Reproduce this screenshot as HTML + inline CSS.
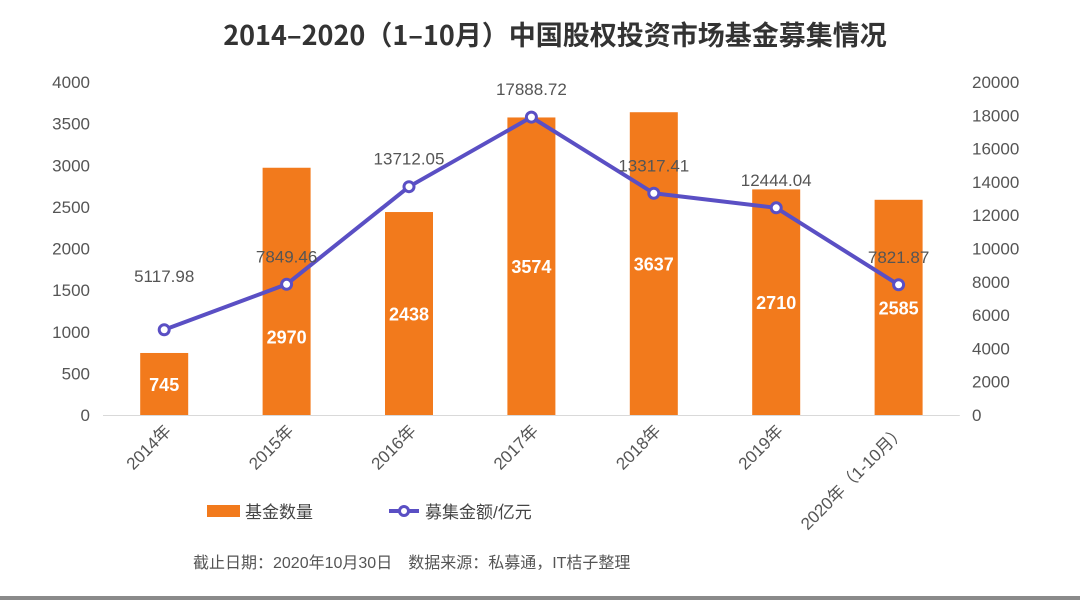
<!DOCTYPE html>
<html><head><meta charset="utf-8"><style>
body{margin:0;background:#fff;}
svg{display:block;font-family:"Liberation Sans","Noto Sans CJK SC",sans-serif;}
</style></head><body>
<svg id="c" width="1080" height="600" viewBox="0 0 1080 600">
<rect x="0" y="0" width="1080" height="600" fill="#fff"/>
<rect x="0" y="596" width="1080" height="4" fill="#8a8a8a"/>
<text x="555" y="45" text-anchor="middle" font-size="27" font-weight="bold" fill="#333" font-family="'Noto Sans CJK SC',sans-serif">2014–2020（1–10月）中国股权投资市场基金募集情况</text>
<g id="g"></g>
<g>
<rect x="207" y="505" width="33" height="12" fill="#F27A1C"/>
<text x="245" y="518" font-size="17" fill="#444">基金数量</text>
<line x1="389" y1="511" x2="419" y2="511" stroke="#5a4fc4" stroke-width="4"/>
<circle cx="404" cy="511" r="4.5" fill="#fff" stroke="#5a4fc4" stroke-width="3"/>
<text x="425" y="518" font-size="17" fill="#444">募集金额/亿元</text>
</g>
<text x="193" y="568" font-size="16" fill="#555">截止日期：2020年10月30日　数据来源：私募通，IT桔子整理</text>
</svg>
<script>
const categories=["2014年","2015年","2016年","2017年","2018年","2019年","2020年（1-10月）"];
const fundCounts=[745,2970,2438,3574,3637,2710,2585];
const amounts=[5117.98,7849.46,13712.05,17888.72,13317.41,12444.04,7821.87];
const amountLabels=["5117.98","7849.46","13712.05","17888.72","13317.41","12444.04","7821.87"];
const leftTicks=[0,500,1000,1500,2000,2500,3000,3500,4000];
const rightTicks=[0,2000,4000,6000,8000,10000,12000,14000,16000,18000,20000];
const NS="http://www.w3.org/2000/svg";
const g=document.getElementById('g');
const y0=415,y1=82,xL=103,step=122.4;
const yL=v=>y0-(v/4000)*(y0-y1);
const yR=v=>y0-(v/20000)*(y0-y1);
const xC=i=>xL+step*(i+0.5);
function mk(t,a,txt){const e=document.createElementNS(NS,t);for(const k in a)e.setAttribute(k,a[k]);if(txt!==undefined)e.textContent=txt;g.appendChild(e);return e;}
leftTicks.forEach(v=>{const e=mk('text',{x:90,y:yL(v)+6,'text-anchor':'end','font-size':17,fill:'#555'},v);

});
rightTicks.forEach(v=>{const e=mk('text',{x:972,y:yR(v)+6,'font-size':17,fill:'#555'},v);

});
const ax=mk('line',{x1:xL,y1:y0+0.5,x2:xL+step*7,y2:y0+0.5,stroke:'#d9d9d9','stroke-width':1});


fundCounts.forEach((v,i)=>{const b=mk('rect',{x:xC(i)-24,y:yL(v),width:48,height:y0-yL(v),fill:'#F27A1C'});


let ly=(yL(v)+y0)/2+7;
if(i===1)ly+=45;
const t=mk('text',{x:xC(i),y:ly,'text-anchor':'middle','font-size':18,'font-weight':'bold',fill:'#fff'},v);

});
const pts=amounts.map((v,i)=>xC(i)+','+yR(v)).join(' ');
const pl=mk('polyline',{points:pts,fill:'none',stroke:'#5a4fc4','stroke-width':4,'stroke-linejoin':'round'});


amounts.forEach((v,i)=>{const c=mk('circle',{cx:xC(i),cy:yR(v),r:5,fill:'#fff',stroke:'#5a4fc4','stroke-width':3});


const off=i===0?-48:-22;
const t=mk('text',{x:xC(i),y:yR(v)+off,'text-anchor':'middle','font-size':17,fill:'#555'},amountLabels[i]);

});
categories.forEach((c,i)=>{const x=xC(i)+8,y=432;const t=mk('text',{x:x,y:y,'text-anchor':'end','font-size':17,fill:'#555',transform:'rotate(-45 '+x+' '+y+')'},c);

});
</script>
</body></html>
